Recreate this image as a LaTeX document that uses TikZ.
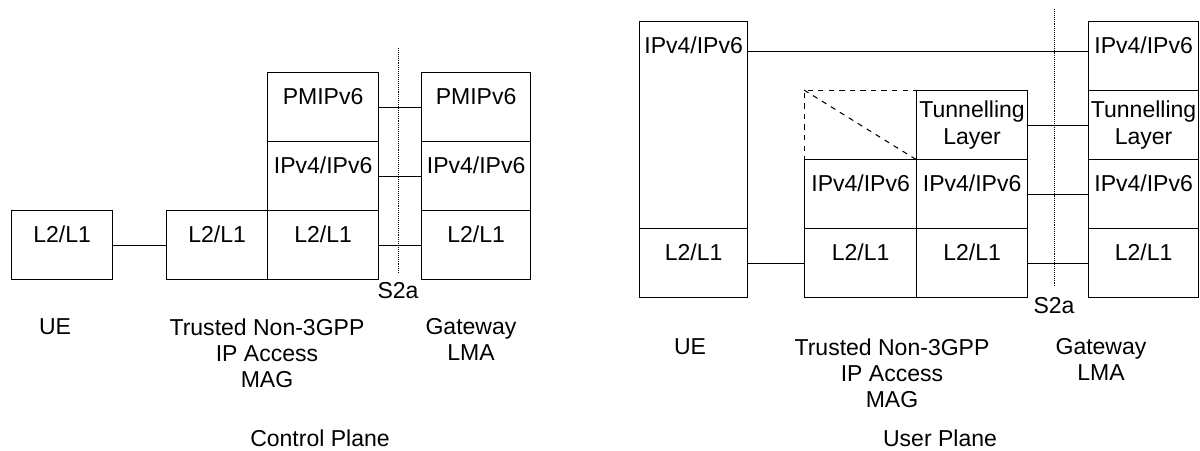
\documentclass[tikz,border=0pt]{standalone}
\usepackage{fontspec}
\setmainfont{Liberation Sans}
\usetikzlibrary{positioning,calc}

\tikzset{
  layer/.style={draw, line width=0.7pt, inner sep=0pt, anchor=north west, minimum width=#1, text height=0.64cm, text depth=0.74cm},
  tunnel/.style={layer=#1, text height=, text depth=, minimum height=1.38cm, align=center},
  lbl/.style={inner sep=0pt, anchor=north, align=center},
  link/.style={line width=0.6pt},
  refline/.style={line width=0.5pt, dash pattern=on 0.5pt off 0.6pt},
}

\begin{document}
\begin{tikzpicture}[x=0.02cm, y=-0.02cm, font=\fontsize{13.1}{15}\selectfont]
  \useasboundingbox (0,0) rectangle (1200,450);

  \node[layer=2.02cm] (cpUE) at (11,210) {L2/L1};
  \node[layer=2.02cm] (cpMAGacc) at (166,210) {L2/L1};
  \node[layer=2.22cm] (cpMAGpm) at (267,72) {PMIPv6};
  \node[layer=2.22cm] (cpMAGip) at (267,141) {IPv4/IPv6};
  \node[layer=2.22cm] (cpMAGl2) at (267,210) {L2/L1};
  \node[layer=2.18cm] (cpGWpm) at (421,72) {PMIPv6};
  \node[layer=2.18cm] (cpGWip) at (421,141) {IPv4/IPv6};
  \node[layer=2.18cm] (cpGWl2) at (421,210) {L2/L1};

  \draw[link] (cpUE.east) -- (cpMAGacc.west);
  \draw[link] (cpMAGpm.east) -- (cpGWpm.west);
  \draw[link] (cpMAGip.east) -- (cpGWip.west);
  \draw[link] (cpMAGl2.east) -- (cpGWl2.west);

  \draw[refline] (398,48) -- (398,273);
  \node[lbl] (cpS2a) at (398,282) {S2a};

  \node[lbl] (cpUEname) at (55,318) {UE};
  \node[lbl] (cpMAGname) at (267,318) {Trusted Non-3GPP\\IP Access\\MAG};
  \node[lbl] (cpGWname) at (471,318) {Gateway\\LMA};
  \node[lbl] (cpTitle) at (320,429) {Control Plane};

  \node[layer=2.16cm, text depth=3.5cm] (upUEip) at (639,21) {IPv4/IPv6};
  \node[layer=2.16cm] (upUEl2) at (639,228) {L2/L1};
  \node[layer=2.24cm, dashed] (upMAGvoid) at (804,90) {};
  \draw[dashed, line width=0.6pt] (upMAGvoid.north west) -- (upMAGvoid.south east);
  \node[layer=2.24cm] (upMAGip) at (804,159) {IPv4/IPv6};
  \node[layer=2.24cm] (upMAGacc) at (804,228) {L2/L1};
  \node[tunnel=2.22cm] (upMAGtun) at (916,90) {Tunnelling\\Layer};
  \node[layer=2.22cm] (upMAGip2) at (916,159) {IPv4/IPv6};
  \node[layer=2.22cm] (upMAGl2) at (916,228) {L2/L1};
  \node[layer=2.2cm] (upGWip) at (1088,21) {IPv4/IPv6};
  \node[tunnel=2.2cm] (upGWtun) at (1088,90) {Tunnelling\\Layer};
  \node[layer=2.2cm] (upGWip2) at (1088,159) {IPv4/IPv6};
  \node[layer=2.2cm] (upGWl2) at (1088,228) {L2/L1};

  \coordinate (upTop) at ([yshift=0.09cm]upGWip.west);
  \draw[link] (upTop -| upUEip.east) -- (upTop);
  \draw[link] (upUEl2.east) -- (upMAGacc.west);
  \draw[link] (upMAGtun.east) -- (upGWtun.west);
  \draw[link] (upMAGip2.east) -- (upGWip2.west);
  \draw[link] (upMAGl2.east) -- (upGWl2.west);

  \draw[refline] (1054,9) -- (1054,286);
  \node[lbl] (upS2a) at (1054,297) {S2a};

  \node[lbl] (upUEname) at (690,338) {UE};
  \node[lbl] (upMAGname) at (892,338) {Trusted Non-3GPP\\IP Access\\MAG};
  \node[lbl] (upGWname) at (1101,338) {Gateway\\LMA};
  \node[lbl] (upTitle) at (940,429) {User Plane};
\end{tikzpicture}
\end{document}
